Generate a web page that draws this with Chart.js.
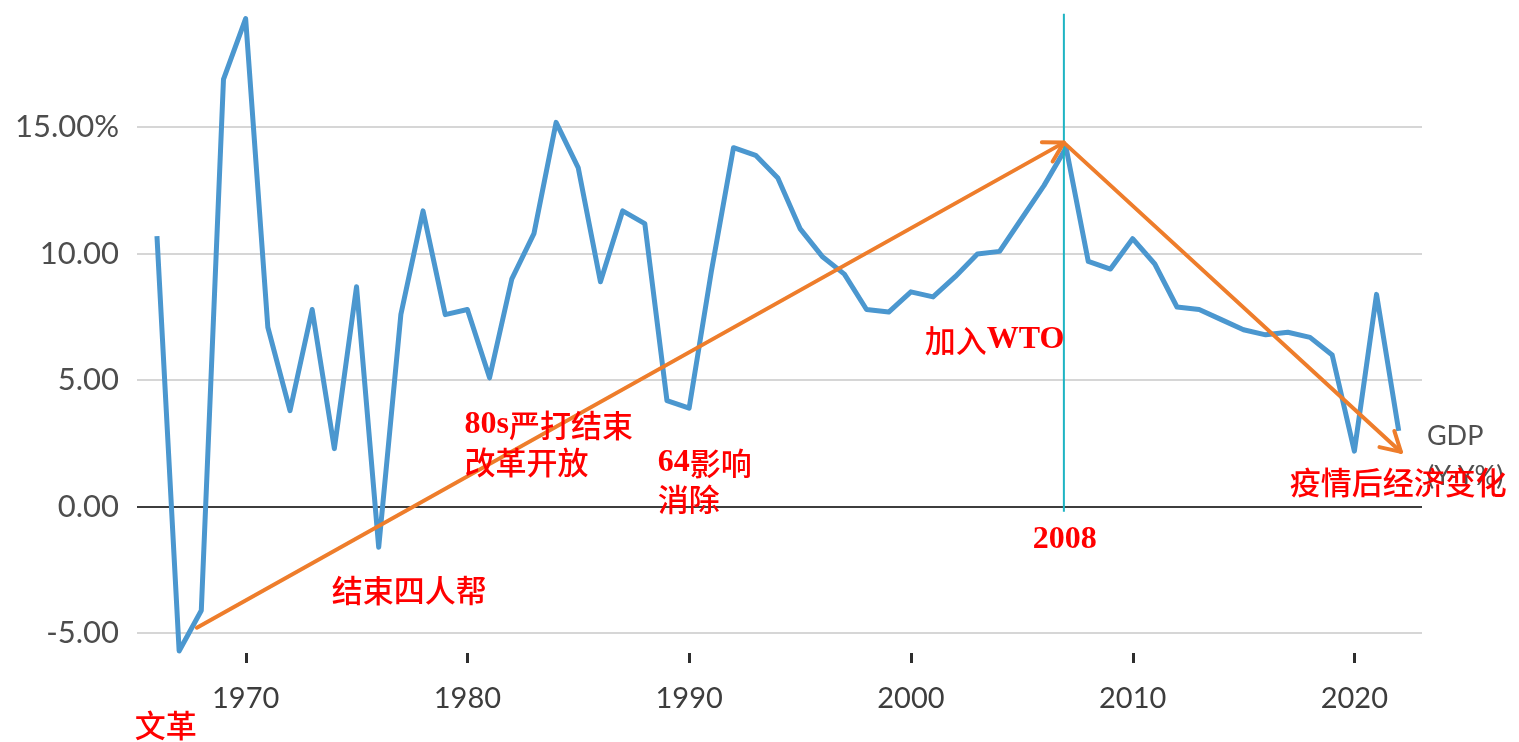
<!DOCTYPE html>
<html lang="zh-CN">
<head>
<meta charset="UTF-8">
<title>中国GDP增长</title>
<script src="https://cdn.jsdelivr.net/npm/chart.js"></script>
<style>
  body { margin: 0; background: #fff; }
  #caixa { width: 1519px; height: 742px; }
</style>
</head>
<body>
<div id="caixa"><canvas id="grafico" width="1519" height="742"></canvas></div>
<script>
// dados: crescimento anual do PIB (%)
var anos = [1966, 1967, 1968, 1969, 1970, 1971, 1972, 1973, 1974, 1975,
            1976, 1977, 1978, 1979, 1980, 1981, 1982, 1983, 1984, 1985,
            1986, 1987, 1988, 1989, 1990, 1991, 1992, 1993, 1994, 1995,
            1996, 1997, 1998, 1999, 2000, 2001, 2002, 2003, 2004, 2005,
            2006, 2007, 2008, 2009, 2010, 2011, 2012, 2013, 2014, 2015,
            2016, 2017, 2018, 2019, 2020, 2021, 2022];
var crescimento = [10.7, -5.7, -4.1, 16.9, 19.3, 7.1, 3.8, 7.8, 2.3, 8.7,
                   -1.6, 7.6, 11.7, 7.6, 7.8, 5.1, 9.0, 10.8, 15.2, 13.4,
                   8.9, 11.7, 11.2, 4.2, 3.9, 9.3, 14.2, 13.9, 13.0, 11.0,
                   9.9, 9.2, 7.8, 7.7, 8.5, 8.3, 9.1, 10.0, 10.1, 11.4,
                   12.7, 14.2, 9.7, 9.4, 10.6, 9.6, 7.9, 7.8, 7.4, 7.0,
                   6.8, 6.9, 6.7, 6.0, 2.2, 8.4, 3.0];
var ticksX = [1970, 1980, 1990, 2000, 2010, 2020];
var ticksY = [-5, 0, 5, 10, 15];
var rotulosY = ['-5.00', '0.00', '5.00', '10.00', '15.00%'];

// setas de tendência (ano, valor)
var tendencia = [[1967.8, -4.78], [2006.9, 14.4], [2022.1, 2.17]];
// linha vertical de 2008
var marco = { ano: 2006.9, de: 19.5, ate: -0.2 };

// textos vermelhos (ano, valor) = canto esquerdo, meio da linha
var notas = [
  { t: '文革', ano: 1965.0, v: -8.62 },
  { t: '结束四人帮', ano: 1973.88, v: -3.28 },
  { t: '80s严打结束', ano: 1979.87, v: 3.24 },
  { t: '改革开放', ano: 1979.87, v: 1.78 },
  { t: '64影响', ano: 1988.58, v: 1.74 },
  { t: '消除', ano: 1988.58, v: 0.28 },
  { t: '加入WTO', ano: 2000.62, v: 6.6 },
  { t: '2008', ano: 2005.5, v: -1.3 },
  { t: '疫情后经济变化', ano: 2017.09, v: 0.99 }
];
var legenda = [
  { t: 'GDP', ano: 2023.27, v: 2.77 },
  { t: '(Y-Y%)', ano: 2023.27, v: 1.19 }
];

var pontos = anos.map(function (a, i) { return { x: a, y: crescimento[i] }; });

function escreve(ctx, texto, px, py) {
  var partes = texto.match(/[\x00-\x7f]+|[^\x00-\x7f]+/g);
  partes.forEach(function (p) {
    ctx.font = /[\x00-\x7f]/.test(p) ? 'bold 32px "Liberation Serif"' : '500 31px "Noto Sans CJK SC"';
    ctx.fillText(p, px, py);
    px += ctx.measureText(p).width;
  });
}

function seta(ctx, x0, y0, x1, y1) {
  ctx.beginPath();
  ctx.moveTo(x0, y0);
  ctx.lineTo(x1, y1);
  ctx.stroke();
  var a = Math.atan2(y1 - y0, x1 - x0), L = 22;
  ctx.beginPath();
  ctx.moveTo(x1 - L * Math.cos(a - Math.PI / 6), y1 - L * Math.sin(a - Math.PI / 6));
  ctx.lineTo(x1, y1);
  ctx.lineTo(x1 - L * Math.cos(a + Math.PI / 6), y1 - L * Math.sin(a + Math.PI / 6));
  ctx.stroke();
}

var anotacoes = {
  id: 'anotacoes',
  afterDatasetsDraw: function (chart) {
    var ctx = chart.ctx, sx = chart.scales.x, sy = chart.scales.y;
    var base = chart.chartArea.bottom;
    ctx.save();

    // tracinhos do eixo x
    ctx.strokeStyle = '#2e2e2e';
    ctx.lineWidth = 3;
    ticksX.forEach(function (t) {
      var px = Math.round(sx.getPixelForValue(t)) + 0.5;
      ctx.beginPath();
      ctx.moveTo(px, base - 3);
      ctx.lineTo(px, base + 7);
      ctx.stroke();
    });

    // linha 2008
    ctx.strokeStyle = '#1eb4c3';
    ctx.lineWidth = 2;
    ctx.beginPath();
    ctx.moveTo(sx.getPixelForValue(marco.ano), sy.getPixelForValue(marco.de));
    ctx.lineTo(sx.getPixelForValue(marco.ano), sy.getPixelForValue(marco.ate));
    ctx.stroke();

    // setas laranja
    ctx.strokeStyle = '#ee7d2b';
    ctx.lineWidth = 4;
    ctx.lineCap = 'round';
    ctx.lineJoin = 'round';
    for (var i = 1; i < tendencia.length; i++) {
      seta(ctx,
        sx.getPixelForValue(tendencia[i - 1][0]), sy.getPixelForValue(tendencia[i - 1][1]),
        sx.getPixelForValue(tendencia[i][0]), sy.getPixelForValue(tendencia[i][1]));
    }

    ctx.textAlign = 'left';
    ctx.textBaseline = 'middle';
    ctx.fillStyle = '#505050';
    ctx.font = '27px Lato';
    legenda.forEach(function (n) {
      ctx.fillText(n.t, sx.getPixelForValue(n.ano), sy.getPixelForValue(n.v));
    });

    ctx.fillStyle = '#ff0000';
    notas.forEach(function (n) {
      escreve(ctx, n.t, sx.getPixelForValue(n.ano), sy.getPixelForValue(n.v));
    });
    ctx.restore();
  }
};

new Chart(document.getElementById('grafico'), {
  type: 'line',
  data: {
    datasets: [{
      label: 'GDP (Y-Y%)',
      data: pontos,
      borderColor: '#4b97cf',
      borderWidth: 5,
      borderJoinStyle: 'round',
      pointRadius: 0,
      tension: 0,
      fill: false
    }]
  },
  options: {
    responsive: false,
    animation: false,
    layout: { padding: { left: 0, right: 97, top: 1, bottom: 0 } },
    plugins: { legend: { display: false }, tooltip: { enabled: false } },
    scales: {
      x: {
        type: 'linear',
        min: 1965.1,
        max: 2023.05,
        afterBuildTicks: function (s) { s.ticks = ticksX.map(function (v) { return { value: v }; }); },
        afterFit: function (s) { s.height = 86; s.paddingLeft = 0; s.paddingRight = 0; },
        border: { display: false },
        grid: { display: false },
        ticks: {
          callback: function (v) { return String(v); },
          color: '#3d3d3d',
          font: { family: 'Lato', size: 29 },
          padding: 17,
          maxRotation: 0
        }
      },
      y: {
        min: -5.9,
        max: 20,
        afterBuildTicks: function (s) { s.ticks = ticksY.map(function (v) { return { value: v }; }); },
        afterFit: function (s) { s.width = 137; s.paddingTop = 0; s.paddingBottom = 0; },
        border: { display: false },
        grid: {
          drawTicks: false,
          lineWidth: 2,
          color: function (c) { return c.tick && c.tick.value === 0 ? '#3e3e3e' : '#d6d6d6'; }
        },
        ticks: {
          callback: function (v, i) { return rotulosY[i]; },
          color: '#4d4d4d',
          font: { family: 'Lato', size: 31 },
          padding: 18
        }
      }
    }
  },
  plugins: [anotacoes]
});
</script>
</body>
</html>
